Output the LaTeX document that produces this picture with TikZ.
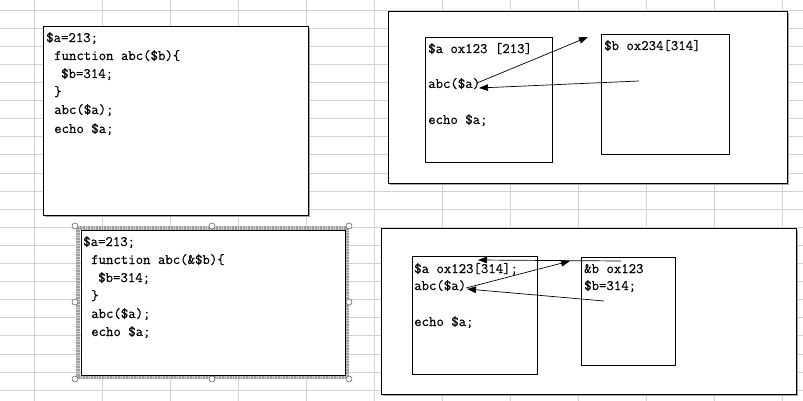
\documentclass[tikz,border=0pt]{standalone}
\usepackage{fontspec}
\newfontfamily\codefont[FakeBold=0.4]{Latin Modern Mono}
\usetikzlibrary{arrows.meta}
\tikzset{
  sheetline/.style={draw=gray!35, line width=0.7pt},
  code/.style={font=\codefont\fontsize{14.4}{16}\selectfont, anchor=base west, inner sep=0pt},
  frame/.style={draw=black, fill=white, line width=0.8pt},
  shadow/.style={fill=gray!70},
  handle/.style={draw=gray!70!black, fill=white, line width=0.5pt},
  link/.style={-{Triangle[length=9pt,width=6.5pt]}, line width=0.7pt}
}
\begin{document}
\begin{tikzpicture}[x=1pt, y=-1pt]
    \useasboundingbox (0,0) rectangle (803,401);
    % Draw the spreadsheet grid in the background
    \foreach \gx in {34,102,...,782}
        \draw[sheetline] (\gx,0) -- (\gx,401);
    \foreach \k in {0,...,21}
        \draw[sheetline] (0,{10+18.1*\k}) -- (803,{10+18.1*\k});

    % First code box (by value)
    \fill[shadow] (45,28) rectangle (310,217);
    \draw[frame] (43,26) rectangle (308,215);
    \node[code] (vala) at (46,42) {\$a=213;};
    \node[code] (valfn) at (54,60) {function abc(\$b)\{};
    \node[code] (valb) at (61,78) {\$b=314;};
    \node[code] (valend) at (54,96) {\}};
    \node[code] (valcall) at (54,114) {abc(\$a);};
    \node[code] (valecho) at (54,133) {echo \$a;};

    % Second code box (by reference), shown selected
    \draw[gray!35, line width=4.5pt] (78,228) rectangle (347,377);
    \draw[gray!75, line width=4.5pt, dash pattern=on 0.8pt off 0.8pt] (78,228) rectangle (347,377);
    \draw[frame] (81,230) rectangle (345,375);
    \foreach \hx/\hy in {75/226,212/226,349/226,75/302,349/302,75/379,212/379,349/379}
        \draw[handle] (\hx,\hy) circle (3pt);
    \node[code] (refa) at (83,246) {\$a=213;};
    \node[code] (reffn) at (91,264) {function abc(\&\$b)\{};
    \node[code] (refb) at (98,282) {\$b=314;};
    \node[code] (refend) at (91,300) {\}};
    \node[code] (refcall) at (91,318) {abc(\$a);};
    \node[code] (refecho) at (91,336) {echo \$a;};

    % Memory sketch for the first case
    \fill[shadow] (390,13) rectangle (789,185);
    \draw[frame] (388,11) rectangle (787,183);
    \draw[frame] (425,37) rectangle (552,162);
    \draw[frame] (601,34) rectangle (729,154);
    \node[code] (topa) at (428,53) {\$a ox123 [213]};
    \node[code] (topcall) at (428,88) {abc(\$a)};
    \node[code] (topecho) at (428,124) {echo \$a;};
    \node[code] (topb) at (604,50) {\$b ox234[314]};
    \coordinate (topout) at (477,83);
    \coordinate (topgo) at (588,37);
    \coordinate (topback) at (639,81);
    \coordinate (topin) at (479,88);
    \draw[link] (topout) -- (topgo);
    \draw[link] (topback) -- (topin);

    % Memory sketch for the second case
    \fill[shadow] (383,230) rectangle (798,396);
    \draw[frame] (381,228) rectangle (796,394);
    \draw[frame] (412,256) rectangle (537,374);
    \draw[frame] (581,257) rectangle (675,365);
    \node[code] (bota) at (414,273) {\$a ox123[314];};
    \node[code] (botcall) at (414,290) {abc(\$a)};
    \node[code] (botecho) at (414,326) {echo \$a;};
    \node[code] (botb) at (584,273) {\&b ox123};
    \node[code] (botset) at (584,290) {\$b=314;};
    \coordinate (botout) at (466,288);
    \coordinate (botgo) at (570,261);
    \coordinate (botback) at (604,301);
    \coordinate (botin) at (467,289);
    \coordinate (botref) at (621,261);
    \coordinate (botval) at (478,260);
    \draw[link] (botout) -- (botgo);
    \draw[link] (botback) -- (botin);
    \draw[link] (botref) -- (botval);
\end{tikzpicture}
\end{document}
